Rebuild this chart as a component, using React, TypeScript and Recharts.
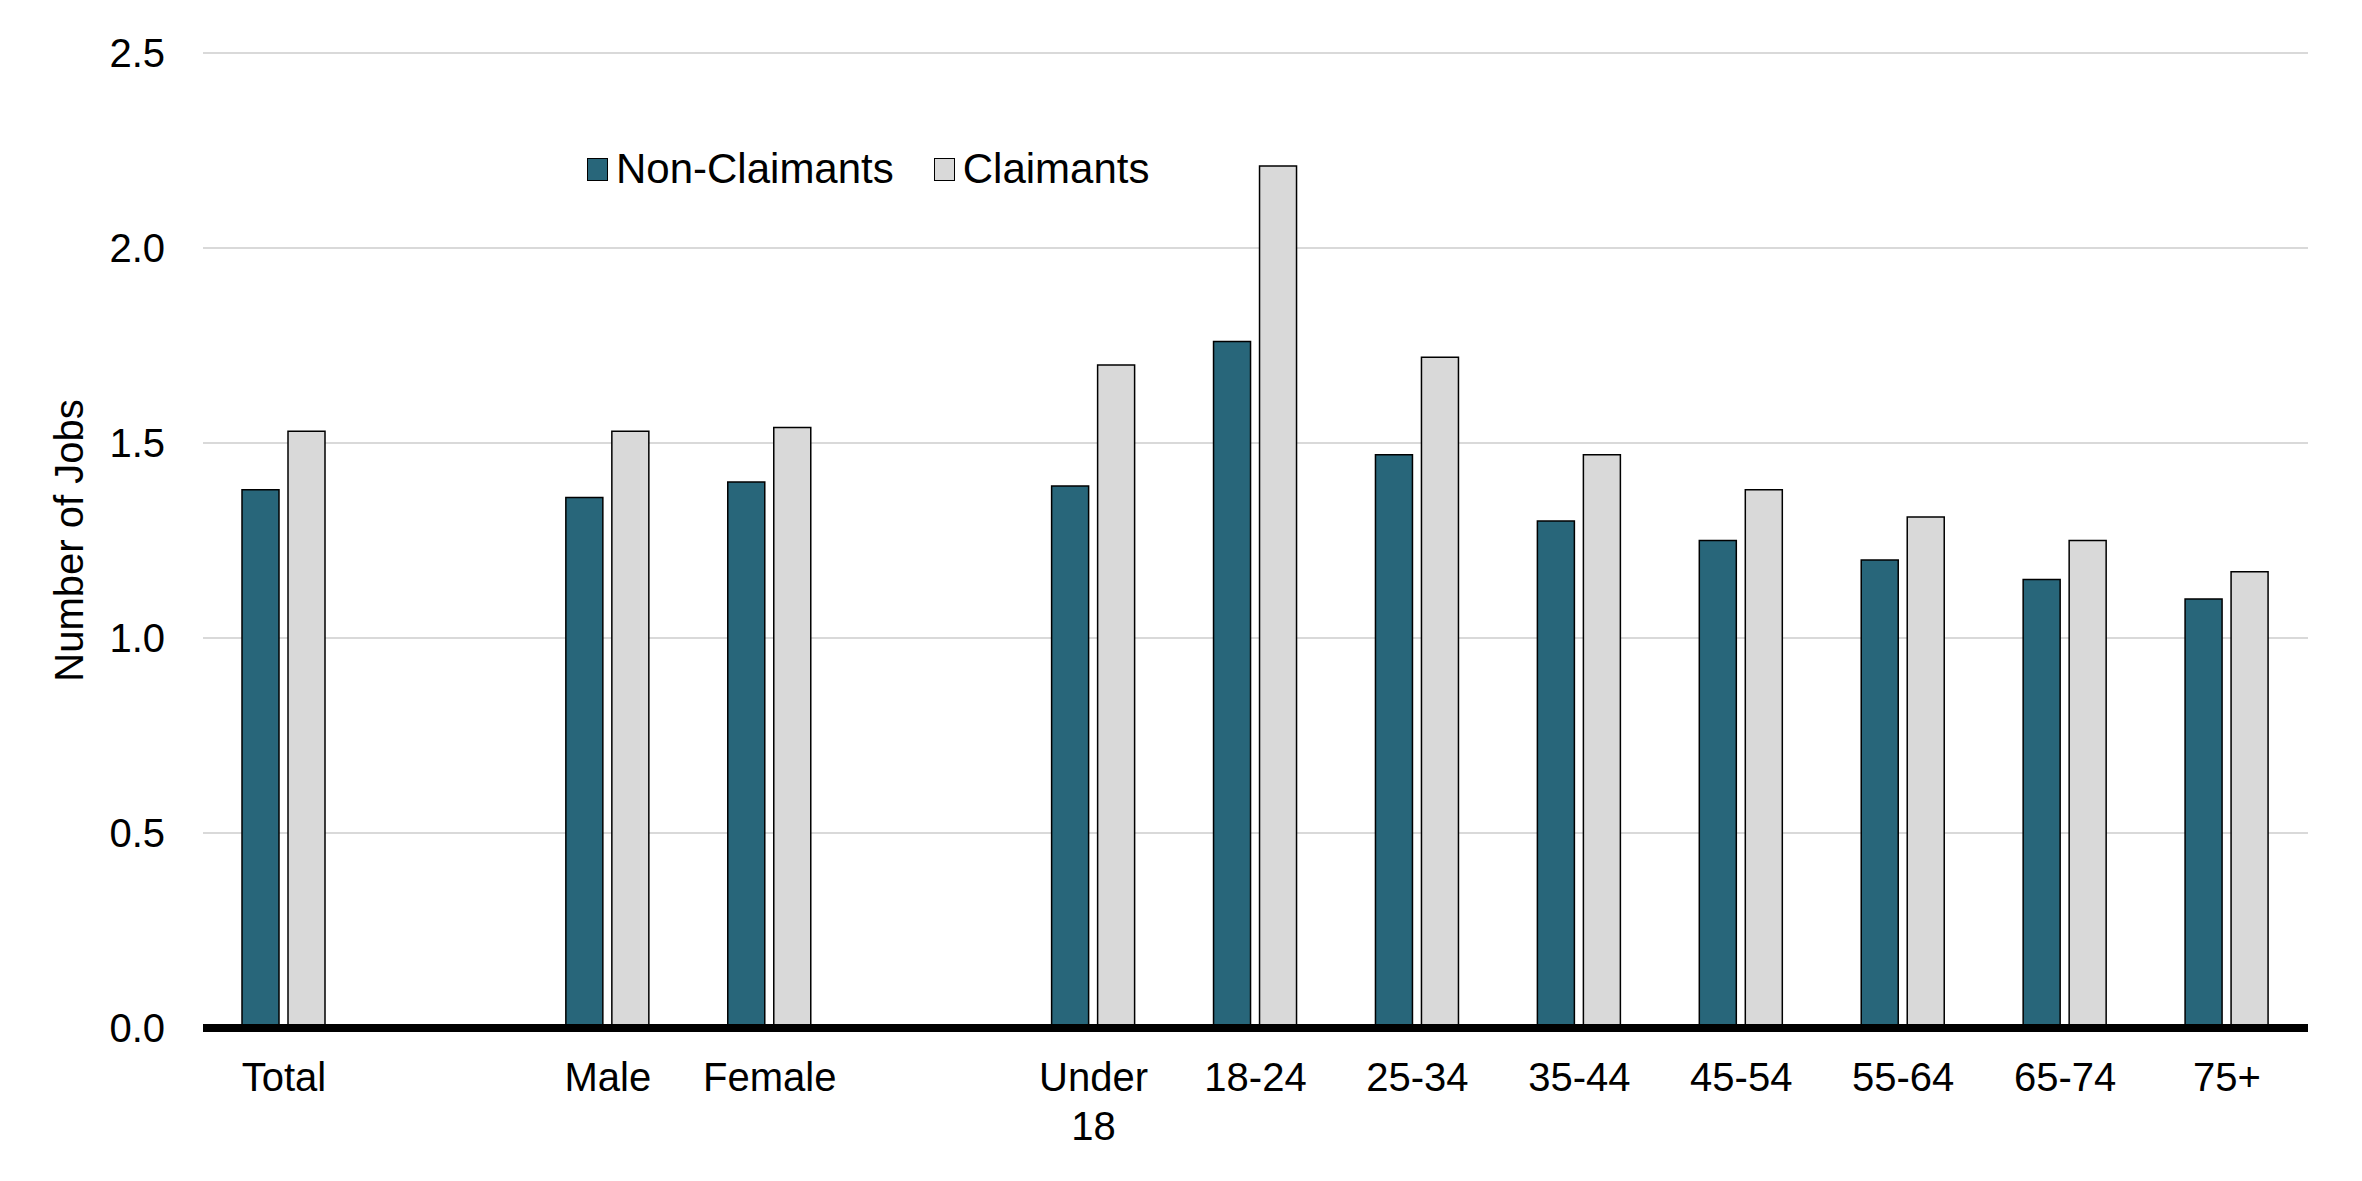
import { BarChart, Bar, XAxis, YAxis, CartesianGrid } from 'recharts';

const categories = ['Total', '', 'Male', 'Female', '', 'Under 18', '18-24', '25-34', '35-44', '45-54', '55-64', '65-74', '75+'];
const nonClaimants = [1.38, null, 1.36, 1.4, null, 1.39, 1.76, 1.47, 1.3, 1.25, 1.2, 1.15, 1.1];
const claimants = [1.53, null, 1.53, 1.54, null, 1.7, 2.21, 1.72, 1.47, 1.38, 1.31, 1.25, 1.17];
const yTicks = [0, 0.5, 1, 1.5, 2, 2.5];

const series = [
  { key: 'nonClaimants', name: 'Non-Claimants', color: '#28667A' },
  { key: 'claimants', name: 'Claimants', color: '#D9D9D9' },
];

const data = categories.map((cat, i) => ({
  cat,
  nonClaimants: nonClaimants[i],
  claimants: claimants[i],
}));

const FONT = '"Liberation Sans", Arial, sans-serif';

function CategoryTick(props: any) {
  const { x, y, payload } = props;
  const lines = String(payload.value).split(' ');
  return (
    <text x={x} y={y + 63} textAnchor="middle" fill="#000" fontSize={40} fontFamily={FONT}>
      {lines.map((line, i) => (
        <tspan key={i} x={x} dy={i === 0 ? 0 : 49}>
          {line}
        </tspan>
      ))}
    </text>
  );
}

// legend sits inside the plot, top-left, like the original
function LegendBox() {
  return (
    <div
      style={{
        position: 'absolute',
        left: 587,
        top: 148,
        height: 42,
        display: 'flex',
        alignItems: 'center',
        fontFamily: FONT,
        fontSize: 42,
        lineHeight: 1,
      }}
    >
      {series.map((s, i) => (
        <div key={s.key} style={{ display: 'flex', alignItems: 'center', marginRight: i === 0 ? 40 : 0 }}>
          <div
            style={{
              width: 19,
              height: 21,
              background: s.color,
              border: '1.5px solid #000',
              marginRight: 8,
            }}
          />
          <span style={{ color: '#000' }}>{s.name}</span>
        </div>
      ))}
    </div>
  );
}

export default function App() {
  return (
    <div style={{ position: 'absolute', left: 0, top: 0, width: 2362, height: 1181, background: '#fff' }}>
      <BarChart
        width={2362}
        height={1181}
        data={data}
        margin={{ top: 53, right: 54, bottom: 0, left: 0 }}
        barSize={37}
        barGap={9}
      >
        <CartesianGrid vertical={false} stroke="#D9D9D9" strokeWidth={2} />
        <XAxis
          dataKey="cat"
          height={153}
          interval={0}
          tickLine={false}
          tickSize={0}
          tickMargin={0}
          axisLine={{ stroke: '#000', strokeWidth: 8 }}
          tick={<CategoryTick />}
        />
        <YAxis
          width={203}
          domain={[0, 2.5]}
          ticks={yTicks}
          tickFormatter={(v: number) => v.toFixed(1)}
          axisLine={false}
          tickLine={false}
          tickSize={0}
          tickMargin={38}
          tick={{ fill: '#000', fontSize: 40, fontFamily: FONT }}
          label={{
            value: 'Number of Jobs',
            angle: -90,
            position: 'insideLeft',
            offset: 69,
            style: { textAnchor: 'middle', fill: '#000', fontSize: 40, fontFamily: FONT },
          }}
        />
        {series.map((s) => (
          <Bar
            key={s.key}
            dataKey={s.key}
            name={s.name}
            fill={s.color}
            stroke="#000"
            strokeWidth={1.5}
            isAnimationActive={false}
          />
        ))}
      </BarChart>
      <LegendBox />
    </div>
  );
}
